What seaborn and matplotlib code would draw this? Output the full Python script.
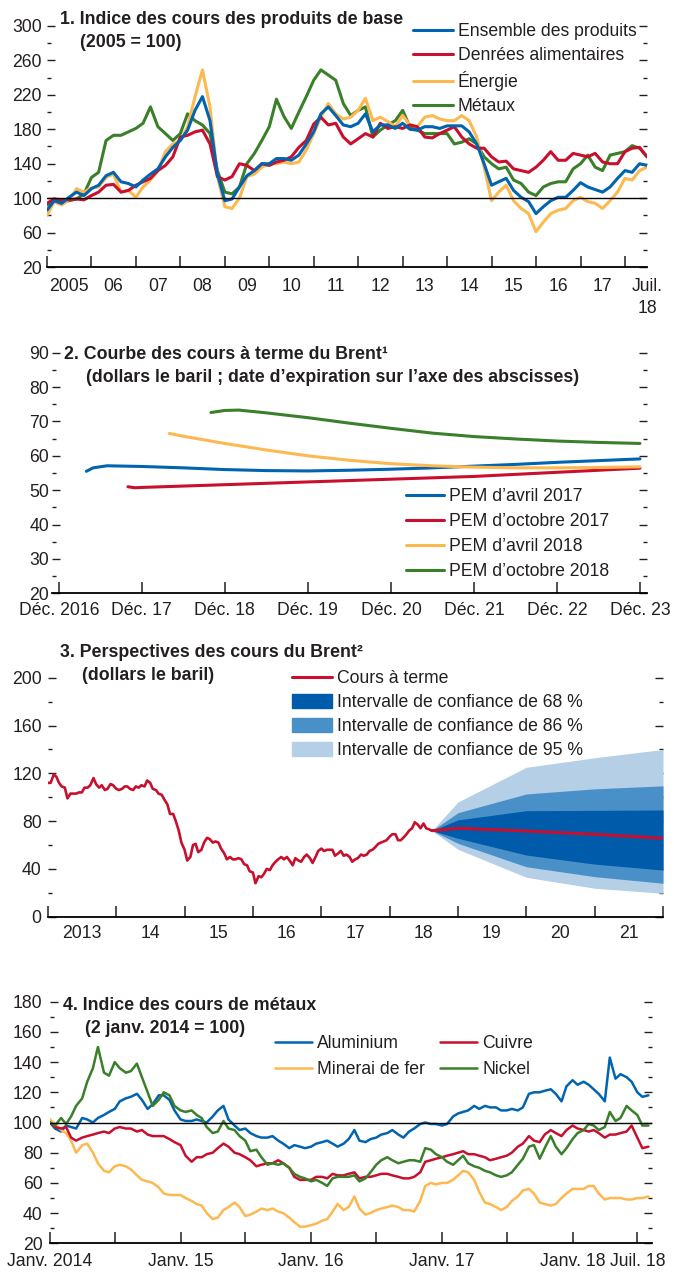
import pandas as pd
import matplotlib
matplotlib.use("Agg")
import matplotlib.pyplot as plt
from matplotlib import font_manager
from matplotlib.lines import Line2D
from matplotlib.patches import Patch
import seaborn as sns

sns.set_theme(style="white")
plt.rcParams["font.family"] = ["Liberation Sans", "DejaVu Sans"]
plt.rcParams["font.size"] = 12.7
plt.rcParams["axes.unicode_minus"] = False

_names = {f.name for f in font_manager.fontManager.ttflist}
if "Liberation Sans Narrow" in _names:
    TITLE_FONT = dict(family=["Liberation Sans Narrow", "Liberation Sans"], fontsize=15.3, fontweight="bold")
else:
    TITLE_FONT = dict(family=["Liberation Sans", "DejaVu Sans"], fontsize=12.8, fontweight="bold")

TXT = "#231f20"
BLUE = "#0064b0"
RED = "#c8102e"
YELLOW = "#fdb850"
GREEN = "#3a7f2a"
FAN_68 = "#005baa"
FAN_86 = "#4a90c8"
FAN_95 = "#b4cfe6"

# ---------------- Panel 1: commodity price indices, bimonthly, 2005 = 100
p1_start = "2005-01-01"
ensemble = [86, 97, 94, 101, 107, 103,
            111, 115, 126, 130, 119, 117,
            113, 121, 128, 134, 148, 159,
            167, 179, 202, 218, 190, 128,
            97, 99, 113, 126, 132, 140,
            140, 146, 146, 144, 150, 163,
            177, 198, 206, 196, 185, 183,
            187, 198, 177, 185, 185, 181,
            187, 180, 179, 183, 183, 181,
            184, 184, 184, 177, 163, 140,
            115, 119, 123, 109, 101, 96,
            82, 90, 97, 101, 101, 109,
            118, 113, 110, 107, 113, 123,
            132, 130, 140, 138]
denrees = [94, 99, 98, 98, 99, 98,
           103, 107, 115, 116, 107, 109,
           115, 119, 123, 132, 138, 148,
           171, 173, 177, 179, 163, 125,
           121, 125, 140, 138, 132, 140,
           138, 142, 144, 148, 159, 167,
           186, 194, 185, 187, 171, 163,
           169, 175, 171, 187, 181, 183,
           181, 185, 183, 171, 170, 175,
           179, 183, 171, 163, 158, 158,
           148, 142, 143, 134, 132, 130,
           136, 144, 154, 144, 144, 152,
           150, 148, 152, 142, 140, 140,
           154, 158, 159, 148]
energie = [80, 96, 92, 98, 111, 107,
           112, 113, 124, 128, 107, 109,
           101, 113, 121, 132, 154, 163,
           167, 183, 218, 249, 206, 125,
           90, 88, 100, 125, 128, 136,
           140, 140, 142, 140, 142, 156,
           175, 194, 210, 198, 192, 194,
           202, 216, 190, 194, 189, 183,
           196, 185, 183, 194, 196, 192,
           190, 190, 196, 190, 171, 136,
           97, 107, 115, 97, 88, 82,
           61, 72, 82, 86, 88, 97,
           101, 96, 94, 88, 97, 107,
           123, 121, 132, 136]
metaux = [92, 97, 97, 97, 99, 105,
          124, 130, 167, 173, 173, 177,
          181, 187, 206, 183, 175, 167,
          175, 198, 190, 185, 175, 132,
          107, 105, 113, 140, 152, 167,
          183, 215, 195, 181, 200, 218,
          237, 249, 243, 237, 210, 196,
          202, 206, 171, 179, 185, 190,
          202, 183, 179, 175, 175, 175,
          175, 163, 165, 169, 163, 148,
          140, 134, 136, 121, 117, 107,
          103, 113, 117, 119, 119, 134,
          140, 150, 136, 132, 150, 152,
          154, 161, 158, 148]
p1_xlabels = ["2005", "06", "07", "08", "09", "10", "11", "12", "13",
              "14", "15", "16", "17", "Juil.\n18"]

# ---------------- Panel 2: Brent futures curves by WEO vintage
avr17_dates = ["2017-04-01", "2017-05-01", "2017-07-01", "2017-12-01", "2018-06-01",
               "2018-12-01", "2019-06-01", "2019-12-01", "2020-06-01", "2020-12-01",
               "2021-06-01", "2021-12-01", "2022-06-01", "2022-12-01", "2023-06-01",
               "2023-12-01"]
avr17 = [55.5, 56.5, 57.1, 56.9, 56.5, 56.0, 55.7, 55.6, 55.8, 56.1,
         56.5, 57.0, 57.5, 58.1, 58.6, 59.1]
oct17_dates = ["2017-10-01", "2017-11-01", "2017-12-01", "2018-06-01", "2018-12-01",
               "2019-06-01", "2019-12-01", "2020-06-01", "2020-12-01", "2021-06-01",
               "2021-12-01", "2022-06-01", "2022-12-01", "2023-06-01", "2023-12-01"]
oct17 = [51.0, 50.7, 50.8, 51.2, 51.6, 52.0, 52.4, 52.8, 53.2, 53.6,
         54.0, 54.6, 55.2, 55.8, 56.4]
avr18_dates = ["2018-04-01", "2018-06-01", "2018-12-01", "2019-06-01", "2019-12-01",
               "2020-06-01", "2020-12-01", "2021-06-01", "2021-12-01", "2022-06-01",
               "2022-12-01", "2023-06-01", "2023-12-01"]
avr18 = [66.5, 65.7, 63.6, 61.7, 60.0, 58.7, 57.7, 57.1, 56.7, 56.5, 56.5, 56.6, 56.8]
oct18_dates = ["2018-10-01", "2018-12-01", "2019-02-01", "2019-06-01", "2019-12-01",
               "2020-06-01", "2020-12-01", "2021-06-01", "2021-12-01", "2022-06-01",
               "2022-12-01", "2023-06-01", "2023-12-01"]
oct18 = [72.6, 73.2, 73.3, 72.5, 71.1, 69.5, 68.0, 66.6, 65.6, 64.9, 64.3, 63.9, 63.6]
p2_xlabels = ["Déc. 2016", "Déc. 17", "Déc. 18", "Déc. 19", "Déc. 20",
              "Déc. 21", "Déc. 22", "Déc. 23"]

# ---------------- Panel 3: Brent spot (semi-monthly) and forecast fan
brent_start = "2013-01-01"
brent = [112, 112, 119, 117, 112, 109, 108, 99, 103, 103, 103, 104,
         104, 108, 108, 110, 116, 111, 108, 110, 106, 107, 111, 110,
         107, 106, 107, 109, 109, 107, 106, 109, 108, 110, 109, 114,
         112, 107, 106, 103, 102, 98, 94, 86, 86, 80, 72, 62,
         56, 47, 50, 60, 61, 54, 56, 62, 66, 65, 62, 63,
         62, 57, 53, 48, 50, 48, 48, 49, 48, 44, 43, 38,
         37, 28, 34, 33, 36, 40, 39, 43, 46, 48, 50, 48,
         50, 47, 43, 49, 47, 46, 50, 52, 49, 45, 50, 55,
         57, 55, 56, 56, 56, 51, 53, 55, 51, 52, 50, 46,
         48, 49, 52, 51, 52, 55, 56, 58, 61, 62, 63, 64,
         67, 69, 69, 64, 64, 66, 69, 72, 74, 79, 77, 74,
         78, 74, 73, 72]
fan_dates = ["2018-08-15", "2019-01-01", "2020-01-01", "2021-01-01", "2022-01-01"]
futures = [72, 74, 71.7, 69, 65.6]
up95 = [72, 96, 125, 133, 140]
up86 = [72, 87, 102.7, 107, 109.5]
up68 = [72, 81, 88.7, 89, 89.3]
lo68 = [72, 65.6, 51.6, 44, 39]
lo86 = [72, 61.4, 41.8, 33.5, 28]
lo95 = [72, 56.4, 33, 23.8, 19.6]
p3_xlabels = ["2013", "14", "15", "16", "17", "18", "19", "20", "21"]

# ---------------- Panel 4: metal price indices (semi-monthly), 2 Jan 2014 = 100
p4_start = "2014-01-01"
aluminium = [100, 96, 94, 98, 97, 96, 103, 102, 100, 103, 105, 107,
             109, 114, 116, 117, 119, 115, 109, 112, 118, 118, 115, 108,
             102, 101, 101, 102, 101, 100, 104, 108, 111, 102, 98, 95,
             96, 93, 91, 90, 90, 91, 88, 86, 83, 85, 84, 83,
             84, 86, 87, 88, 86, 84, 86, 89, 95, 88, 87, 89,
             90, 92, 93, 95, 92, 90, 94, 96, 99, 100, 99, 99,
             98, 99, 104, 106, 107, 108, 111, 109, 111, 110, 110, 108,
             108, 109, 108, 110, 119, 120, 120, 121, 122, 119, 114, 124,
             128, 125, 127, 125, 122, 119, 114, 143, 129, 132, 130, 127,
             120, 117, 118]
cuivre = [100, 97, 96, 97, 90, 88, 90, 91, 92, 93, 94, 93,
          96, 97, 96, 96, 94, 95, 92, 91, 91, 91, 89, 87,
          85, 78, 74, 77, 77, 79, 80, 83, 86, 84, 80, 79,
          77, 75, 71, 72, 73, 73, 75, 73, 70, 64, 62, 62,
          62, 64, 64, 63, 66, 65, 65, 66, 67, 63, 64, 64,
          65, 66, 66, 65, 64, 63, 63, 64, 67, 74, 75, 76,
          77, 78, 79, 80, 81, 79, 79, 78, 77, 75, 76, 77,
          78, 80, 84, 86, 91, 88, 87, 92, 95, 93, 91, 95,
          98, 96, 95, 94, 95, 93, 90, 92, 92, 93, 94, 98,
          90, 83, 84]
minerai = [102, 99, 95, 93, 88, 80, 85, 86, 80, 73, 68, 67,
           71, 72, 71, 69, 65, 62, 61, 60, 57, 53, 52, 52,
           52, 50, 48, 46, 45, 40, 36, 37, 42, 44, 47, 44,
           38, 39, 41, 43, 42, 43, 41, 40, 37, 34, 31, 31,
           32, 33, 35, 36, 41, 46, 42, 44, 51, 43, 39, 40,
           42, 43, 44, 45, 44, 42, 42, 41, 48, 58, 60, 59,
           60, 60, 62, 65, 68, 67, 62, 54, 47, 46, 44, 42,
           44, 48, 51, 55, 56, 53, 47, 46, 45, 46, 50, 53,
           56, 56, 56, 58, 58, 53, 49, 50, 50, 50, 49, 49,
           50, 50, 51]
nickel = [100, 98, 103, 99, 104, 111, 116, 127, 136, 150, 133, 131,
          140, 136, 133, 134, 139, 130, 120, 111, 115, 120, 118, 111,
          108, 107, 108, 105, 103, 97, 93, 94, 101, 96, 95, 91,
          88, 81, 82, 77, 72, 73, 72, 73, 70, 66, 64, 63,
          61, 62, 60, 58, 63, 64, 64, 64, 65, 61, 63, 67,
          72, 75, 77, 75, 73, 74, 75, 75, 74, 83, 82, 79,
          77, 74, 72, 75, 78, 73, 71, 70, 68, 67, 65, 64,
          65, 67, 72, 76, 84, 85, 76, 83, 91, 84, 79, 83,
          89, 93, 95, 99, 98, 95, 97, 107, 101, 103, 111, 108,
          105, 98, 98]
p4_xlabels = ["Janv. 2014", "", "Janv. 15", "", "Janv. 16", "", "Janv. 17", "",
              "Janv. 18", "Juil. 18"]

# ---------------- figure scaffolding
W, H = 674, 1272
fig = plt.figure(figsize=(W / 100, H / 100), dpi=100)
fig.patch.set_facecolor("white")


def panel(x0, x1, ytop, ybot):
    ax = fig.add_axes([x0 / W, 1 - ybot / H, (x1 - x0) / W, (ybot - ytop) / H])
    ax.set_facecolor("none")
    for side in ("top", "right", "left"):
        ax.spines[side].set_visible(False)
    ax.spines["bottom"].set_color("black")
    ax.spines["bottom"].set_linewidth(1.3)
    ax.grid(False)
    ax.tick_params(axis="y", which="both", left=True, right=True, direction="in",
                   colors=TXT, width=1.0, labelsize=12.7)
    ax.tick_params(axis="y", which="major", length=6)
    ax.tick_params(axis="y", which="minor", length=3)
    ax.tick_params(axis="x", which="major", direction="in", length=8, width=1.1,
                   bottom=True, colors=TXT, labelsize=12.7)
    ax.tick_params(axis="x", which="minor", length=0, bottom=True, colors=TXT,
                   labelsize=12.7)
    return ax


def title(x, y, text):
    fig.text(x / W, 1 - y / H, text, ha="left", va="baseline", color=TXT, **TITLE_FONT)


def legend(ax, handles, labels, x, y, **kw):
    opts = dict(loc="upper left", bbox_to_anchor=(x / W, 1 - y / H),
                bbox_transform=fig.transFigure, frameon=False, borderpad=0,
                borderaxespad=0, handlelength=2.25, handletextpad=0.3,
                labelspacing=0.45, fontsize=12.7, labelcolor=TXT)
    opts.update(kw)
    ax.legend(handles, labels, **opts)


def finish(ax):
    ax.set_xlabel("")
    ax.set_ylabel("")


# ---------------- Panel 1
ax1 = panel(47, 647, 26, 267)
p1_dates = pd.date_range(p1_start, periods=len(ensemble), freq="2MS")
p1_lines = {}
for name, vals, col in [("Métaux", metaux, GREEN), ("Énergie", energie, YELLOW),
                        ("Denrées alimentaires", denrees, RED),
                        ("Ensemble des produits", ensemble, BLUE)]:
    sns.lineplot(x=p1_dates, y=vals, ax=ax1, color=col, linewidth=2.2)
    p1_lines[name] = ax1.lines[-1]
ax1.axhline(100, color="black", lw=1.0, zorder=3)
ax1.set_xlim(pd.Timestamp("2005-01-01"), pd.Timestamp("2018-07-01"))
ax1.set_ylim(20, 300)
ax1.set_yticks(range(20, 301, 40))
ax1.set_yticks(range(40, 300, 40), minor=True)
ax1.set_xticks(pd.date_range("2005-01-01", "2018-01-01", freq="YS"))
ax1.set_xticklabels([])
ax1.set_xticks(pd.date_range("2005-07-01", "2018-07-01", freq="12MS"), minor=True)
t1 = ax1.set_xticklabels(p1_xlabels, minor=True)
t1[-1].set_linespacing(1.4)
ax1.tick_params(axis="x", which="minor", pad=7.8)
ax1.tick_params(axis="y", which="major", pad=3.6)
order1 = ["Ensemble des produits", "Denrées alimentaires", "Énergie", "Métaux"]
legend(ax1, [p1_lines[k] for k in order1], order1, 413, 23, labelspacing=0.4)
finish(ax1)
title(60, 24, "1. Indice des cours des produits de base")
title(80, 47, "(2005 = 100)")

# ---------------- Panel 2
ax2 = panel(52, 647, 352.7, 593.3)
p2_lines = []
for dates, vals, col in [(avr17_dates, avr17, BLUE), (oct17_dates, oct17, RED),
                         (avr18_dates, avr18, YELLOW), (oct18_dates, oct18, GREEN)]:
    sns.lineplot(x=pd.to_datetime(dates), y=vals, ax=ax2, color=col, linewidth=2.2)
    p2_lines.append(ax2.lines[-1])
ax2.set_xlim(pd.Timestamp("2016-11-01"), pd.Timestamp("2024-01-01"))
ax2.set_ylim(20, 90)
ax2.set_yticks(range(20, 91, 10))
ax2.set_yticks(range(25, 90, 10), minor=True)
ax2.set_xticks(pd.date_range("2016-12-01", "2023-12-01", freq="12MS"))
ax2.set_xticklabels(p2_xlabels)
ax2.tick_params(axis="x", which="major", pad=6.5)
ax2.tick_params(axis="y", which="major", pad=2.2)
legend(ax2, p2_lines, ["PEM d’avril 2017", "PEM d’octobre 2017", "PEM d’avril 2018",
                       "PEM d’octobre 2018"], 406, 488, handlelength=2.16)
finish(ax2)
title(64, 359, "2. Courbe des cours à terme du Brent¹")
title(86, 382, "(dollars le baril ; date d’expiration sur l’axe des abscisses)")

# ---------------- Panel 3
ax3 = panel(48, 663, 677.7, 916.7)
fd = pd.to_datetime(fan_dates)
ax3.fill_between(fd, lo95, up95, color=FAN_95, lw=0, zorder=1)
ax3.fill_between(fd, lo86, up86, color=FAN_86, lw=0, zorder=1.1)
ax3.fill_between(fd, lo68, up68, color=FAN_68, lw=0, zorder=1.2)
sns.lineplot(x=pd.date_range(brent_start, periods=len(brent), freq="SMS"), y=brent,
             ax=ax3, color=RED, linewidth=1.9, zorder=3)
sns.lineplot(x=fd, y=futures, ax=ax3, color=RED, linewidth=2.2, zorder=3)
ax3.set_xlim(pd.Timestamp("2013-01-01"), pd.Timestamp("2022-01-01"))
ax3.set_ylim(0, 200)
ax3.set_yticks(range(0, 201, 40))
ax3.set_yticks(range(20, 200, 40), minor=True)
ax3.set_xticks(pd.date_range("2013-01-01", "2022-01-01", freq="YS"))
ax3.set_xticklabels([])
ax3.set_xticks(pd.date_range("2013-07-01", "2021-07-01", freq="12MS"), minor=True)
ax3.set_xticklabels(p3_xlabels, minor=True)
ax3.tick_params(axis="x", which="minor", pad=6.2)
ax3.tick_params(axis="y", which="major", pad=4.5)
legend(ax3, [Line2D([], [], color=RED, lw=2.2), Patch(color=FAN_68),
             Patch(color=FAN_86), Patch(color=FAN_95)],
       ["Cours à terme", "Intervalle de confiance de 68 %",
        "Intervalle de confiance de 86 %", "Intervalle de confiance de 95 %"],
       292, 670, handlelength=2.27, handleheight=0.8, labelspacing=0.4)
finish(ax3)
title(60, 657, "3. Perspectives des cours du Brent²")
title(82, 680, "(dollars le baril)")

# ---------------- Panel 4
ax4 = panel(50, 652, 1001.7, 1243.3)
p4_dates = pd.date_range(p4_start, periods=len(aluminium), freq="SMS")
p4_lines = {}
for name, vals, col in [("Aluminium", aluminium, BLUE), ("Minerai de fer", minerai, YELLOW),
                        ("Cuivre", cuivre, RED), ("Nickel", nickel, GREEN)]:
    sns.lineplot(x=p4_dates, y=vals, ax=ax4, color=col, linewidth=1.8)
    p4_lines[name] = ax4.lines[-1]
ax4.axhline(100, color="black", lw=1.0, zorder=3)
ax4.set_xlim(pd.Timestamp("2014-01-01"), pd.Timestamp("2018-08-11"))
ax4.set_ylim(20, 180)
ax4.set_yticks(range(20, 181, 20))
ax4.set_yticks(range(30, 180, 20), minor=True)
ax4.set_xticks(pd.date_range("2014-01-01", "2018-07-01", freq="6MS"))
ax4.set_xticklabels(p4_xlabels)
ax4.tick_params(axis="x", which="major", pad=7.2)
ax4.tick_params(axis="y", which="major", pad=5.3)
order4 = ["Aluminium", "Minerai de fer", "Cuivre", "Nickel"]
legend(ax4, [p4_lines[k] for k in order4], order4, 275, 1035, ncol=2,
       handlelength=2.1, handletextpad=0.28, columnspacing=0.86, labelspacing=0.5)
finish(ax4)
title(63, 1010, "4. Indice des cours de métaux")
title(85, 1033, "(2 janv. 2014 = 100)")

fig.savefig("out.png", dpi=100, facecolor="white")
